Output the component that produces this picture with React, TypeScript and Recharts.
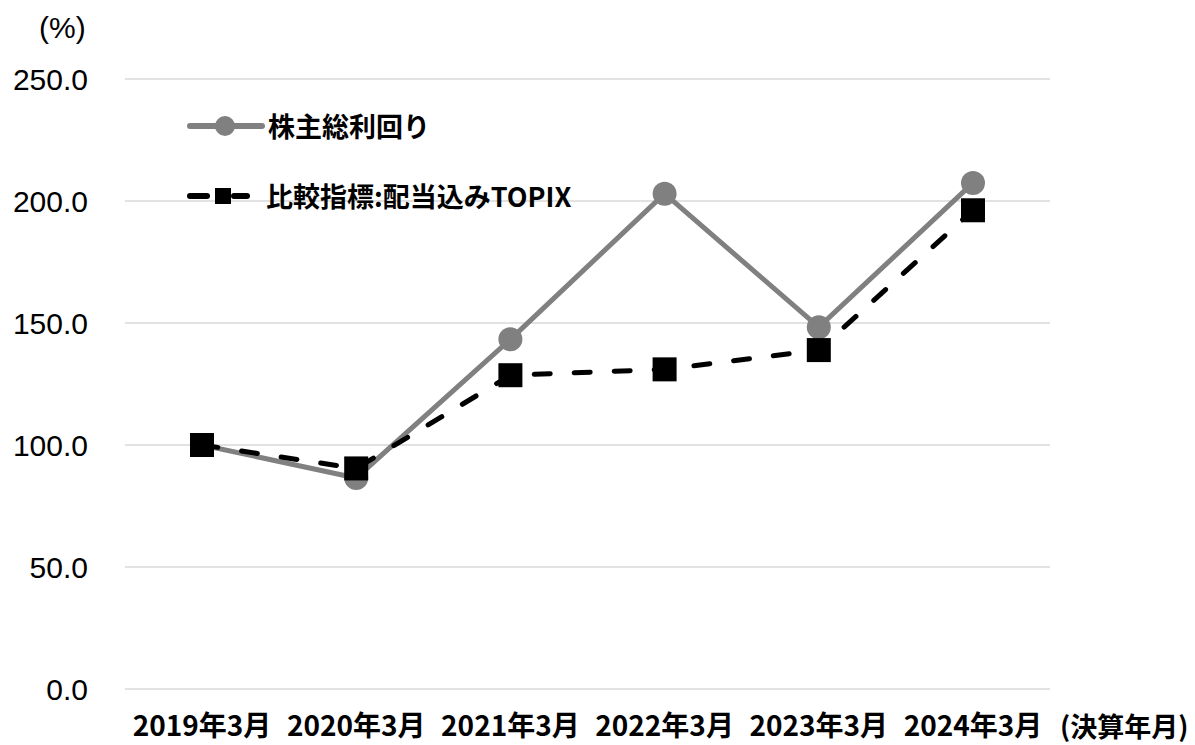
import { LineChart, Line, CartesianGrid, XAxis, YAxis, Legend } from 'recharts'

const periods = ['2019年3月', '2020年3月', '2021年3月', '2022年3月', '2023年3月', '2024年3月']
const tsr = [100.0, 86.5, 143.3, 203.0, 148.3, 207.4]
const topix = [100.0, 90.4, 128.6, 131.0, 138.9, 196.2]
const yTicks = [0, 50, 100, 150, 200, 250]

const seriesNames = { tsr: '株主総利回り', topix: '比較指標:配当込みTOPIX' }

const GRAY = '#808080'
const JP = '"Noto Sans CJK JP", "Noto Sans", sans-serif'
const NUM = '"Liberation Sans", Arial, sans-serif'

const chartData = periods.map((p, i) => ({ period: p, tsr: tsr[i], topix: topix[i] }))

function SquareDot(props: any) {
  const { cx, cy, index } = props
  if (cx == null || cy == null) return null
  return <rect key={`sq-${index}`} x={cx - 12} y={cy - 12} width={24} height={24} fill="#000" />
}

function ChartLegend() {
  const text = { fontFamily: JP, fontWeight: 700, fontSize: 27, color: '#000', lineHeight: '30px' }
  return (
    <div>
      <div style={{ display: 'flex', alignItems: 'center', height: 30 }}>
        <svg width={80} height={30}>
          <line x1={4} y1={15} x2={76} y2={15} stroke={GRAY} strokeWidth={6} strokeLinecap="round" />
          <circle cx={39} cy={15} r={10} fill={GRAY} />
        </svg>
        <span style={{ ...text, marginLeft: 2 }}>{seriesNames.tsr}</span>
      </div>
      <div style={{ display: 'flex', alignItems: 'center', height: 30, marginTop: 40 }}>
        <svg width={80} height={30}>
          <line x1={4} y1={15} x2={21} y2={15} stroke="#000" strokeWidth={6} strokeLinecap="round" />
          <line x1={48} y1={15} x2={61} y2={15} stroke="#000" strokeWidth={6} strokeLinecap="round" />
          <rect x={29} y={7} width={16} height={16} fill="#000" />
        </svg>
        <span style={{ ...text, marginLeft: 0 }}>{seriesNames.topix}</span>
      </div>
    </div>
  )
}

export default function App() {
  return (
    <div style={{ position: 'absolute', left: 0, top: 0, width: 1195, height: 745, background: '#fff' }}>
      <LineChart width={1195} height={745} data={chartData} margin={{ top: 79, right: 145, bottom: 0, left: 0 }}>
        <CartesianGrid stroke="#d9d9d9" strokeWidth={1.5} vertical={false} />
        <XAxis
          dataKey="period"
          height={56}
          axisLine={false}
          tickLine={false}
          tickSize={6}
          tickMargin={21}
          interval={0}
          padding={{ left: 77, right: 77 }}
          tick={{ fontFamily: JP, fontWeight: 700, fontSize: 28, fill: '#000' }}
        />
        <YAxis
          width={125}
          domain={[0, 250]}
          ticks={yTicks}
          axisLine={false}
          tickLine={false}
          tickSize={6}
          tickMargin={31}
          tickFormatter={(v: number) => v.toFixed(1)}
          tick={{ fontFamily: NUM, fontSize: 30, fill: '#000' }}
        />
        <Legend
          layout="vertical"
          align="center"
          verticalAlign="middle"
          wrapperStyle={{ top: 111, left: 186, width: 500 }}
          content={() => <ChartLegend />}
        />
        <Line
          dataKey="tsr"
          name={seriesNames.tsr}
          stroke={GRAY}
          strokeWidth={5}
          dot={{ r: 12, fill: GRAY, stroke: 'none' }}
          activeDot={false}
          isAnimationActive={false}
        />
        <Line
          dataKey="topix"
          name={seriesNames.topix}
          stroke="#000"
          strokeWidth={5}
          strokeDasharray="16 24"
          strokeLinecap="round"
          dot={SquareDot}
          activeDot={false}
          isAnimationActive={false}
        />
      </LineChart>
      <span style={{ position: 'absolute', left: 39, top: 11, fontFamily: NUM, fontSize: 30, color: '#000' }}>(%)</span>
      <span style={{ position: 'absolute', left: 1060, top: 706, fontFamily: JP, fontWeight: 700, fontSize: 27, color: '#000', whiteSpace: 'nowrap' }}>(決算年月)</span>
    </div>
  )
}
